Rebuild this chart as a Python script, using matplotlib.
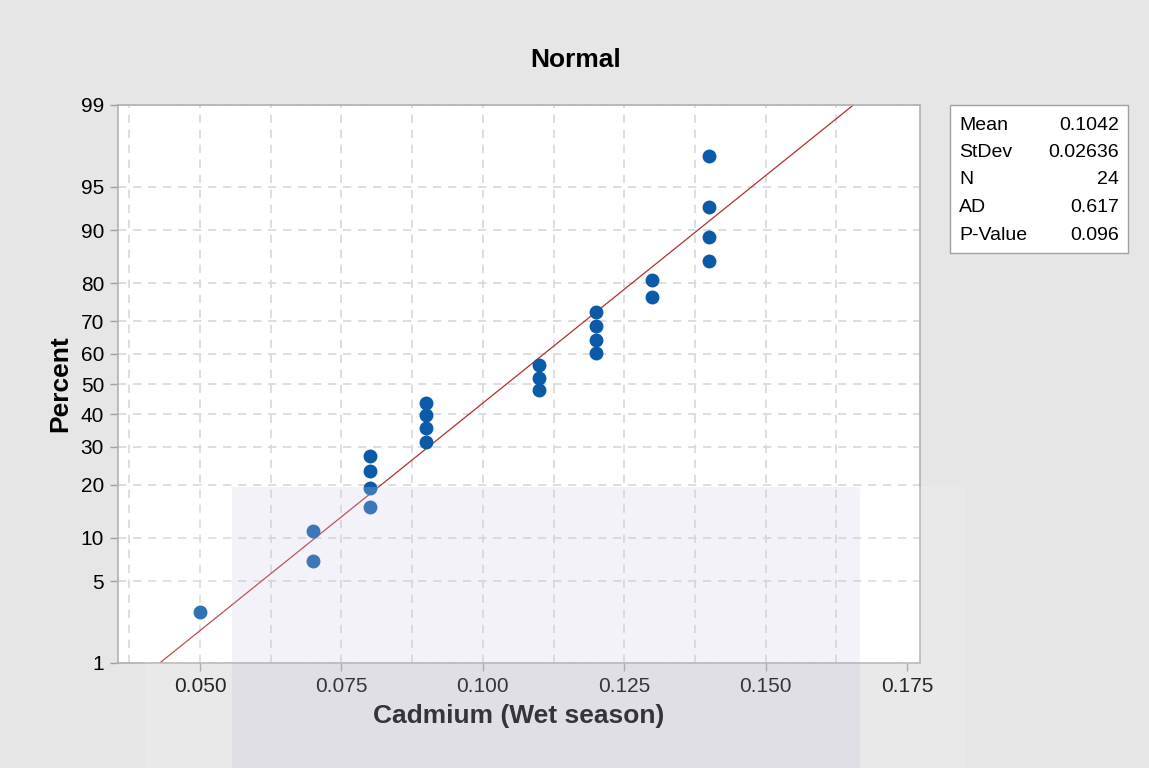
import matplotlib
matplotlib.use("Agg")
import matplotlib.pyplot as plt
from matplotlib.patches import Rectangle
from statistics import NormalDist

plt.rcParams['font.family'] = ['Liberation Sans', 'DejaVu Sans']

# datos (Cadmium, estación húmeda)
cadmio = [0.05, 0.07, 0.07, 0.08, 0.08, 0.08, 0.08, 0.09, 0.09, 0.09, 0.09,
          0.11, 0.11, 0.11, 0.12, 0.12, 0.12, 0.12, 0.13, 0.13, 0.14, 0.14,
          0.14, 0.14]
porcentaje = [2.87, 6.97, 11.07, 15.16, 19.26, 23.36, 27.46, 31.56, 35.66,
              39.75, 43.85, 47.95, 52.05, 56.15, 60.25, 64.34, 68.44, 72.54,
              76.64, 80.74, 84.84, 88.93, 93.03, 97.13]
ticks_y = [1, 5, 10, 20, 30, 40, 50, 60, 70, 80, 90, 95, 99]
ticks_x = [0.050, 0.075, 0.100, 0.125, 0.150, 0.175]
media = 0.1042
desv = 0.02636
stats_nombres = ["Mean", "StDev", "N", "AD", "P-Value"]
stats_valores = ["0.1042", "0.02636", "24", "0.617", "0.096"]

nd = NormalDist()
def z(p):
    return nd.inv_cdf(p / 100.0)

fig = plt.figure(figsize=(11.49, 7.68), dpi=100)
fig.patch.set_facecolor('#e6e6e6')
ax = fig.add_axes([118 / 1149, 1 - 663 / 768, (920 - 118) / 1149, (663 - 105) / 768])
ax.set_facecolor('white')

zmin, zmax = z(1), z(99)
ax.set_xlim(0.0355, 0.1773)
ax.set_ylim(zmin, zmax)

# rejilla
for gx in [0.0375 + 0.0125 * i for i in range(11)]:
    ax.axvline(gx, color='#d8d8d8', lw=1.2, ls=(0, (5, 4)), zorder=1)
for t in ticks_y:
    ax.axhline(z(t), color='#d8d8d8', lw=1.2, ls=(0, (5, 4)), zorder=1)

# línea ajustada
ax.plot([media + desv * zmin, media + desv * zmax], [zmin, zmax],
        color='#b03030', lw=0.9, zorder=2)

ax.plot(cadmio, [z(p) for p in porcentaje], 'o', color='#0b5aa8',
        markersize=9, zorder=3)

ax.set_xticks(ticks_x)
ax.set_xticklabels([f"{t:.3f}" for t in ticks_x], fontsize=15)
ax.set_yticks([z(t) for t in ticks_y])
ax.set_yticklabels([str(t) for t in ticks_y], fontsize=15)
ax.tick_params(color='#a0a0a0', length=6, width=1, pad=4)
for s in ax.spines.values():
    s.set_color('#b0b0b0')
    s.set_linewidth(1.2)

ax.set_xlabel("Cadmium (Wet season)", fontsize=19, fontweight='bold', labelpad=6)
ax.set_ylabel("Percent", fontsize=19, fontweight='bold', labelpad=6)
fig.text(576 / 1149, 1 - 60 / 768, "Normal", fontsize=19, fontweight='bold',
         ha='center', va='center')

# cuadro de estadísticas
fig.patches.append(Rectangle((950 / 1149, 1 - 253 / 768), 178 / 1149, 148 / 768,
                             transform=fig.transFigure, facecolor='white',
                             edgecolor='#a0a0a0', lw=1))
for i, (n, v) in enumerate(zip(stats_nombres, stats_valores)):
    yy = 1 - (125 + i * 27.5) / 768
    fig.text(959 / 1149, yy, n, fontsize=14, ha='left', va='center')
    fig.text(1119 / 1149, yy, v, fontsize=14, ha='right', va='center')

# marca de agua (aproximada)
fig.patches.append(Rectangle((145 / 1149, 0), 820 / 1149, 1 - 487 / 768,
                             transform=fig.transFigure, facecolor='#ffffff',
                             alpha=0.15, lw=0, zorder=10))
fig.patches.append(Rectangle((232 / 1149, 0), 628 / 1149, 1 - 487 / 768,
                             transform=fig.transFigure, facecolor='#a0a0d0',
                             alpha=0.13, lw=0, zorder=10))

fig.savefig("out.png", dpi=100, facecolor=fig.get_facecolor())
